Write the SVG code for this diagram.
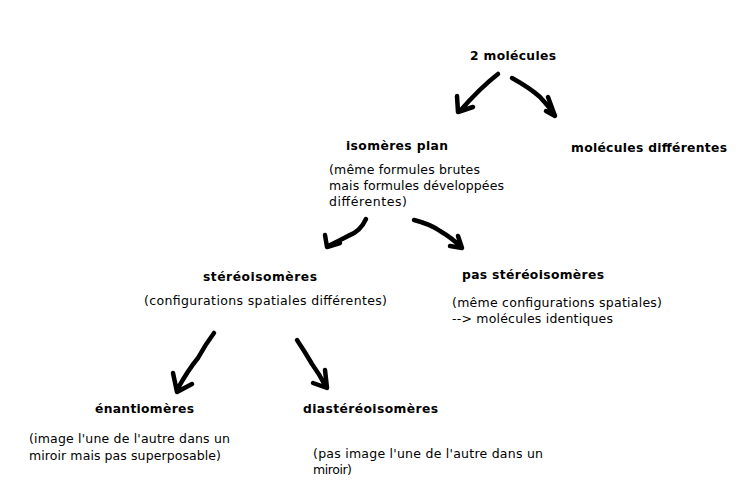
<svg xmlns="http://www.w3.org/2000/svg" width="744" height="498" viewBox="0 0 744 498">
<style>
text{font-family:"DejaVu Sans",Verdana,sans-serif;font-size:12.5px;fill:#000}
.b{font-weight:bold;font-size:12.3px}
.a{fill:none;stroke:#000;stroke-width:4.5;stroke-linecap:round;stroke-linejoin:round}
</style>
<rect width="744" height="498" fill="#fff"/>
<g id="connectors">
<path class="a" d="M498,74 Q480,88 460,111 M457,96 L458,112 L473,107"/>
<path class="a" d="M512,78 Q530,88 540,97 Q548,106 553,112 M548,97 L555,116 L546,111"/>
<path class="a" d="M366,219 Q360,232 348,236 Q337,242 328,246 M325,235 L327,247 L340,243"/>
<path class="a" d="M414,220 Q430,224 440,231 Q452,238 461,247 M458,236 L462,248 L450,246"/>
<path class="a" d="M214,333 Q205,345 198,358 Q188,370 177,390 M173,373 L177,392 L192,384"/>
<path class="a" d="M297,340 Q305,352 312,364 Q320,375 326,387 M325,370 L327,388 L313,383"/>
</g>
<g id="n1"><text class="b" x="470" y="60" textLength="86" lengthAdjust="spacing">2 molécules</text></g>
<g id="n2"><text class="b" x="571" y="152" textLength="156" lengthAdjust="spacing">molécules différentes</text></g>
<g id="n3"><text class="b" x="346" y="150" textLength="102" lengthAdjust="spacing">isomères plan</text>
<text x="329" y="174" textLength="151" lengthAdjust="spacing">(même formules brutes</text>
<text x="329" y="190" textLength="175" lengthAdjust="spacing">mais formules développées</text>
<text x="329" y="206" textLength="78" lengthAdjust="spacing">différentes)</text></g>
<g id="n4"><text class="b" x="203" y="281" textLength="114" lengthAdjust="spacing">stéréoisomères</text>
<text x="144" y="305" textLength="243" lengthAdjust="spacing">(configurations spatiales différentes)</text></g>
<g id="n5"><text class="b" x="462" y="279" textLength="142" lengthAdjust="spacing">pas stéréoisomères</text>
<text x="452" y="307" textLength="210" lengthAdjust="spacing">(même configurations spatiales)</text>
<text x="452" y="323" textLength="161" lengthAdjust="spacing">--&gt; molécules identiques</text></g>
<g id="n6"><text class="b" x="95" y="413" textLength="99" lengthAdjust="spacing">énantiomères</text>
<text x="29" y="443" textLength="201" lengthAdjust="spacing">(image l'une de l'autre dans un</text>
<text x="29" y="460" textLength="192" lengthAdjust="spacing">miroir mais pas superposable)</text></g>
<g id="n7"><text class="b" x="303" y="413" textLength="135" lengthAdjust="spacing">diastéréoisomères</text>
<text x="313" y="458" textLength="230" lengthAdjust="spacing">(pas image l'une de l'autre dans un</text>
<text x="313" y="474" textLength="39" lengthAdjust="spacing">miroir)</text></g>
</svg>
